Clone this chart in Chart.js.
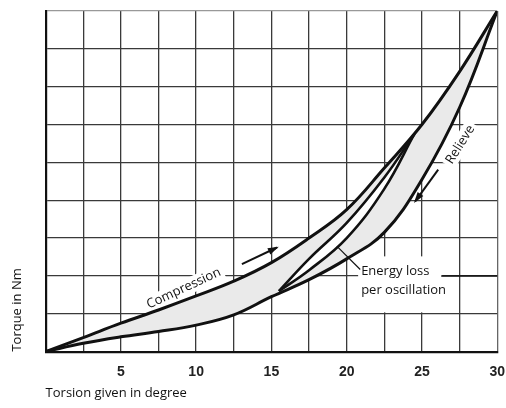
<!DOCTYPE html>
<html>
<head>
<meta charset="utf-8">
<script src="https://cdn.jsdelivr.net/npm/chart.js@4/dist/chart.umd.min.js"></script>
<style>
html,body{margin:0;padding:0;background:#fff;}
#wrap{width:506px;height:408px;}
</style>
</head>
<body>
<div id="wrap"><canvas id="c" width="506" height="408"></canvas></div>
<script>
// Outer loop: compression (upper) and relieve (lower)
const xUpper = [0, 2.5, 5, 7.5, 10, 12.5, 15, 17.5, 20, 22.5, 25, 27.5, 30];
const yUpper = [0, 0.37, 0.75, 1.1, 1.47, 1.86, 2.35, 3.0, 3.75, 4.85, 6.0, 7.4, 9];
const xLower = [0, 2.5, 5, 7.5, 10, 12.5, 15, 17.5, 20, 22.5, 25, 27.5, 30];
const yLower = [0, 0.22, 0.39, 0.53, 0.7, 0.97, 1.45, 1.9, 2.45, 3.15, 4.55, 6.45, 9];
// Inner loop (smaller oscillation)
const xInnerA = [15.5, 17.5, 20, 22.5, 24.5];
const yInnerA = [1.6, 2.45, 3.4, 4.6, 5.75];
const xInnerB = [15.5, 17.5, 20, 22.5, 24.5];
const yInnerB = [1.6, 2.15, 3.0, 4.3, 5.75];
// Tick labels
const xTickLabels = [5, 10, 15, 20, 25, 30];
const xTitle = 'Torsion given in degree';
const yTitle = 'Torque in Nm';

const pts = (xs, ys) => xs.map((x, i) => ({x: x, y: ys[i]}));

const FONT = "'Open Sans', sans-serif";

function px(chart, x, y){
  return [chart.scales.x.getPixelForValue(x), chart.scales.y.getPixelForValue(y)];
}

function rotText(ctx, chart, text, x, y, angDeg){
  const [cx, cy] = px(chart, x, y);
  ctx.save();
  ctx.translate(cx, cy);
  ctx.rotate(angDeg * Math.PI / 180);
  ctx.font = '13px ' + FONT;
  const w = ctx.measureText(text).width;
  ctx.fillStyle = '#fff';
  ctx.fillRect(-w/2 - 3, -8, w + 6, 16);
  ctx.fillStyle = '#111';
  ctx.textAlign = 'center';
  ctx.textBaseline = 'middle';
  ctx.fillText(text, 0, 0);
  ctx.restore();
}

function arrow(ctx, chart, x0, y0, x1, y1, width, head){
  const [a, b] = px(chart, x0, y0);
  const [c, d] = px(chart, x1, y1);
  ctx.save();
  ctx.strokeStyle = '#111';
  ctx.fillStyle = '#111';
  ctx.lineWidth = width;
  ctx.beginPath(); ctx.moveTo(a, b); ctx.lineTo(c, d); ctx.stroke();
  if (head) {
    const ang = Math.atan2(d - b, c - a);
    ctx.beginPath();
    ctx.moveTo(c + Math.cos(ang) * 2, d + Math.sin(ang) * 2);
    ctx.lineTo(c - Math.cos(ang) * 9 + Math.cos(ang + Math.PI/2) * 3.5, d - Math.sin(ang) * 9 + Math.sin(ang + Math.PI/2) * 3.5);
    ctx.lineTo(c - Math.cos(ang) * 9 - Math.cos(ang + Math.PI/2) * 3.5, d - Math.sin(ang) * 9 - Math.sin(ang + Math.PI/2) * 3.5);
    ctx.closePath(); ctx.fill();
  }
  ctx.restore();
}

const annot = {
  id: 'annot',
  beforeDatasetsDraw(chart){
    const ctx = chart.ctx;
    rotText(ctx, chart, 'Compression', 9.18, 1.67, -25);
    rotText(ctx, chart, 'Relieve', 27.55, 5.47, -58);
    const [lx, ly1] = px(chart, 20.96, 2.12);
    const [, ly2] = px(chart, 20.96, 1.62);
    ctx.save();
    ctx.font = '13px ' + FONT;
    ctx.fillStyle = '#fff';
    ctx.fillRect(lx - 3, ly1 - 15, 84, 56);
    ctx.fillStyle = '#111';
    ctx.textBaseline = 'middle';
    ctx.textAlign = 'left';
    ctx.fillText('Energy loss', lx, ly1);
    ctx.fillText('per oscillation', lx, ly2);
    ctx.restore();
  },
  afterDatasetsDraw(chart){
    const ctx = chart.ctx;
    arrow(ctx, chart, 13.04, 2.31, 15.37, 2.75, 2, true);
    arrow(ctx, chart, 26.08, 4.81, 24.55, 3.97, 2, true);
    arrow(ctx, chart, 19.36, 2.78, 20.9, 2.17, 1.2, false);
    arrow(ctx, chart, 26.28, 2.0, 30, 2.0, 1.5, false);
  }
};

new Chart(document.getElementById('c'), {
  type: 'line',
  data: {
    datasets: [
      {data: pts(xInnerA, yInnerA), borderColor: '#111', borderWidth: 2.6, pointRadius: 0,
       fill: {target: '+1'}, backgroundColor: '#ffffff', tension: 0.4},
      {data: pts(xInnerB, yInnerB), borderColor: '#111', borderWidth: 2.6, pointRadius: 0,
       fill: false, tension: 0.4},
      {data: pts(xUpper, yUpper), borderColor: '#111', borderWidth: 3, pointRadius: 0,
       fill: {target: '+1'}, backgroundColor: '#eaeaea', tension: 0.4},
      {data: pts(xLower, yLower), borderColor: '#111', borderWidth: 3, pointRadius: 0,
       fill: false, tension: 0.4}
    ]
  },
  options: {
    responsive: false,
    animation: false,
    events: [],
    layout: {padding: {left: 0, top: 11, right: 0, bottom: 0}},
    plugins: {
      legend: {display: false},
      tooltip: {enabled: false},
      filler: {drawTime: 'beforeDatasetsDraw'}
    },
    scales: {
      x: {
        type: 'linear', min: 0, max: 30,
        ticks: {
          stepSize: 2.5, padding: 1, color: '#222',
          font: {family: "'Liberation Sans', Arial, sans-serif", size: 14, weight: 'bold'},
          maxRotation: 0, autoSkip: false,
          callback: (v) => xTickLabels.includes(v) ? String(v) : ''
        },
        grid: {color: (c) => c.tick && c.tick.value === 30 ? '#666' : '#3a3a3a', lineWidth: 1.3,
               drawTicks: true, tickLength: 11, tickColor: 'rgba(0,0,0,0)'},
        border: {color: '#111', width: 2.2},
        title: {display: true, text: xTitle, align: 'start', color: '#111',
                font: {family: FONT, size: 13}, padding: {top: 4, bottom: 7}}
      },
      y: {
        type: 'linear', min: 0, max: 9,
        ticks: {stepSize: 1, display: false},
        grid: {color: (c) => c.tick && c.tick.value === 9 ? '#999' : '#3a3a3a', lineWidth: 1.3, drawTicks: false},
        border: {color: '#111', width: 2.2},
        title: {display: true, text: yTitle, align: 'start', color: '#111',
                font: {family: FONT, size: 13}, padding: {top: 9, bottom: 21}}
      }
    }
  },
  plugins: [annot]
});
</script>
</body>
</html>
